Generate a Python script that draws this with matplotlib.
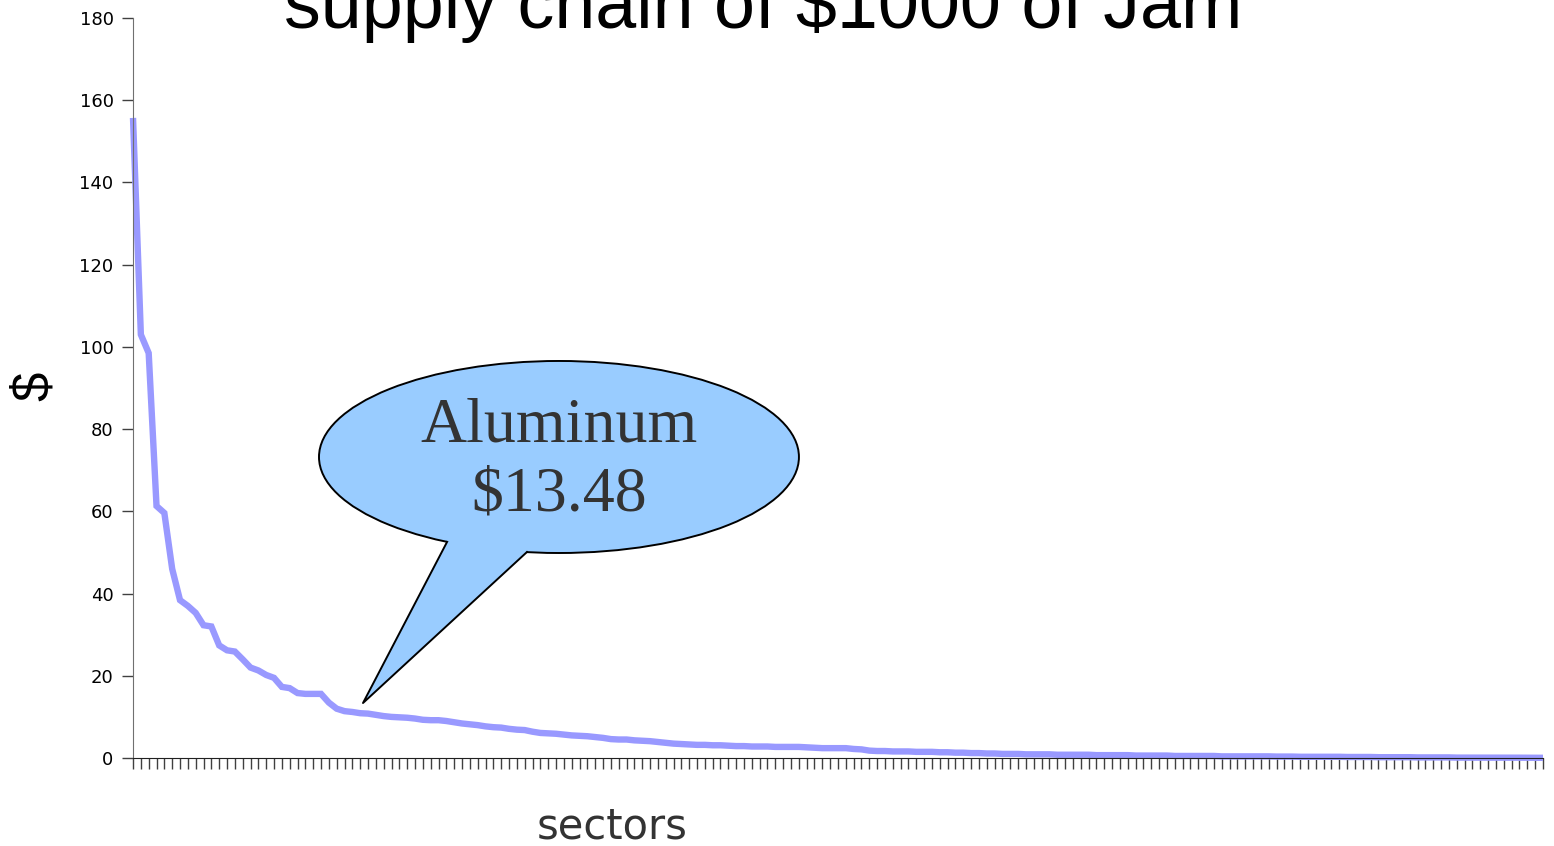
"""
Supply chain of $1000 of Jam - spend per sector, sorted high to low.
"""

import matplotlib
matplotlib.use("Agg")
import matplotlib.pyplot as plt
from matplotlib.patches import Ellipse, Polygon

# Dollars per sector (sorted, largest first)
SECTOR_SPEND = [
    155.7, 103.0, 98.5, 61.3, 59.6, 46.0, 38.4, 37.0, 35.3, 32.3,
    32.0, 27.4, 26.2, 25.9, 24.0, 22.0, 21.3, 20.2, 19.5, 17.3,
    17.0, 15.8, 15.6, 15.6, 15.6, 13.48, 12.0, 11.4, 11.2, 10.9,
    10.8, 10.5, 10.2, 10.0, 9.9, 9.8, 9.6, 9.3, 9.2, 9.2,
    9.0, 8.7, 8.4, 8.2, 8.0, 7.7, 7.5, 7.4, 7.1, 6.9,
    6.8, 6.4, 6.1, 6.0, 5.9, 5.7, 5.5, 5.4, 5.3, 5.1,
    4.9, 4.6, 4.5, 4.5, 4.3, 4.2, 4.1, 3.9, 3.7, 3.5,
    3.4, 3.3, 3.2, 3.2, 3.1, 3.1, 3.0, 2.9, 2.9, 2.8,
    2.8, 2.8, 2.7, 2.7, 2.7, 2.7, 2.6, 2.5, 2.4, 2.4,
    2.4, 2.4, 2.2, 2.1, 1.8, 1.7, 1.7, 1.6, 1.6, 1.6,
    1.5, 1.5, 1.5, 1.4, 1.4, 1.3, 1.3, 1.2, 1.2, 1.1,
    1.1, 1.0, 1.0, 1.0, 0.9, 0.9, 0.9, 0.9, 0.8, 0.8,
    0.8, 0.8, 0.8, 0.7, 0.7, 0.7, 0.7, 0.7, 0.6, 0.6,
    0.6, 0.6, 0.6, 0.5, 0.5, 0.5, 0.5, 0.5, 0.5, 0.4,
    0.4, 0.4, 0.4, 0.4, 0.4, 0.4, 0.35, 0.35, 0.35, 0.3,
    0.3, 0.3, 0.3, 0.3, 0.3, 0.25, 0.25, 0.25, 0.25, 0.2,
    0.2, 0.2, 0.2, 0.2, 0.15, 0.15, 0.15, 0.15, 0.15, 0.1,
    0.1, 0.1, 0.1, 0.1, 0.1, 0.1, 0.08, 0.08, 0.06, 0.06,
    0.05,
]
Y_TICKS = [0, 20, 40, 60, 80, 100, 120, 140, 160, 180]

TITLE = "supply chain of $1000 of Jam"
CALLOUT_TEXT = "Aluminum\n$13.48"

LINE_COLOR = "#9999FF"
CALLOUT_FILL = "#99CCFF"
AXIS_COLOR = "#404040"


def main():
    fig = plt.figure(figsize=(15.54, 8.46), dpi=100)
    ax = fig.add_axes([0.0856, 0.1040, 0.9073, 0.8747])

    xs = list(range(len(SECTOR_SPEND)))
    ax.plot(xs, SECTOR_SPEND, color=LINE_COLOR, linewidth=4.6,
            solid_capstyle="butt", solid_joinstyle="miter", clip_on=False)

    ax.set_xlim(0, len(SECTOR_SPEND) - 1)
    ax.set_ylim(0, 180)
    ax.set_yticks(Y_TICKS)
    ax.set_xticks(xs)
    ax.set_xticklabels([])

    for side in ("top", "right"):
        ax.spines[side].set_visible(False)
    ax.spines["left"].set_color("#707070")
    ax.spines["bottom"].set_color("#202020")
    ax.tick_params(axis="y", direction="out", length=8, width=1,
                   color=AXIS_COLOR, labelsize=13, pad=6)
    ax.tick_params(axis="x", direction="out", length=8, width=1,
                   color=AXIS_COLOR)
    for lbl in ax.get_yticklabels():
        lbl.set_fontfamily("DejaVu Sans")

    # Axis titles
    fig.text(0.0225, 0.543, "$", rotation=90, ha="center", va="center",
             fontsize=38, family="Liberation Sans", color="black")
    fig.text(0.394, 1 - 838 / 846, "sectors", ha="center", va="baseline",
             fontsize=30, family="DejaVu Sans", color="#333333")

    # Title (runs off the top edge in the original)
    fig.text(0.491, 1 - 28 / 846, TITLE, ha="center", va="baseline",
             fontsize=53, family="Liberation Sans", color="black")

    # Speech-bubble callout, in axes coordinates
    tr = ax.transAxes
    bubble = Ellipse((0.3021, 0.4068), 0.3404, 0.2595, transform=tr,
                     facecolor=CALLOUT_FILL, edgecolor="black",
                     linewidth=1.4, zorder=5, clip_on=False)
    ax.add_patch(bubble)
    tail_fill = Polygon([(0.2227, 0.2919), (0.1631, 0.0743),
                         (0.2794, 0.2784), (0.2600, 0.3300)],
                        closed=True, transform=tr, facecolor=CALLOUT_FILL,
                        edgecolor="none", zorder=6, clip_on=False)
    ax.add_patch(tail_fill)
    ax.plot([0.2227, 0.1631, 0.2794], [0.2919, 0.0743, 0.2784],
            transform=tr, color="black", linewidth=1.4, zorder=7,
            clip_on=False)
    ax.text(0.3021, 0.4010, CALLOUT_TEXT, transform=tr, ha="center",
            va="center", fontsize=46, family="Liberation Serif",
            color="#333333", linespacing=1.26, zorder=8)

    fig.savefig("out.png", dpi=100)
    plt.close(fig)


if __name__ == "__main__":
    main()
